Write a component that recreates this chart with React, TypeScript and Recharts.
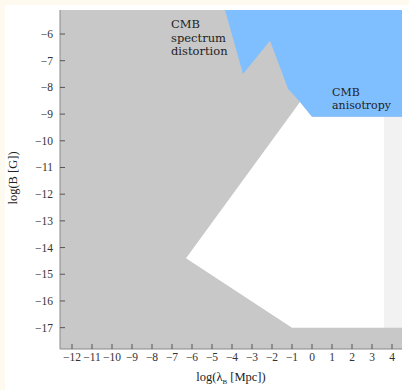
import React from 'react';
import {
    ComposedChart,
    Area,
    XAxis,
    YAxis,
    CartesianGrid,
    ReferenceArea,
} from 'recharts';

// excluded-region outlines (log lambda_B [Mpc], log B [G])
const whiteX = [-6.3, -0.6, 0.0, 3.6];
const whiteTop = [-14.4, -8.55, -9.1, -9.1];

const grayX = [-6.3, -1.0, 4.5];
const grayEdge = [-14.4, -17.0, -17.0];

const blueX = [-4.35, -3.45, -2.1, -1.2, -0.6, 0.0, 4.5];
const blueEdge = [-5.1, -7.5, -6.25, -8.05, -8.55, -9.1, -9.1];

const stripX = [3.6, 4.5];
const stripY = [-17.0, -9.1];

const xTicks = [-12, -11, -10, -9, -8, -7, -6, -5, -4, -3, -2, -1, 0, 1, 2, 3, 4];
const yTicks = [-17, -16, -15, -14, -13, -12, -11, -10, -9, -8, -7, -6];

const X_DOMAIN: [number, number] = [-12.6, 4.5];
const Y_DOMAIN: [number, number] = [-17.8, -5.1];

const GRAY = '#c8c8c8';
const BLUE = '#80bfff';
const AXIS = '#8a8a8a';
const SERIF = '"Liberation Serif", "DejaVu Serif", serif';
const LABEL_FONT = '"DejaVu Serif", serif';

type Row = { x: number; white?: number; gray?: number; blue?: number };

const rowsByX = new Map<number, Row>();
const put = (xs: number[], ys: number[], key: 'white' | 'gray' | 'blue') => {
    xs.forEach((x, i) => {
        const row = rowsByX.get(x) ?? { x };
        row[key] = ys[i];
        rowsByX.set(x, row);
    });
};
put(whiteX, whiteTop, 'white');
put(grayX, grayEdge, 'gray');
put(blueX, blueEdge, 'blue');
const data = Array.from(rowsByX.values()).sort((a, b) => a.x - b.x);

const minus = (v: number) => (v < 0 ? `\u2212${Math.abs(v)}` : `${v}`);

const XTick = (props: any) => {
    const { x, y, payload } = props;
    return (
        <text x={x} y={y + 9} textAnchor="middle" fontFamily={SERIF} fontSize={11.5} fill="#333">
            {minus(payload.value)}
        </text>
    );
};

const YTick = (props: any) => {
    const { x, y, payload } = props;
    return (
        <text x={x} y={y + 4} textAnchor="end" fontFamily={SERIF} fontSize={11.5} fill="#333">
            {minus(payload.value)}
        </text>
    );
};

const XTitle = (props: any) => {
    const { viewBox } = props;
    const cx = viewBox.x + viewBox.width / 2;
    return (
        <text x={cx} y={381} textAnchor="middle" fontFamily={SERIF} fontSize={12.5} fill="#222">
            log(λ
            <tspan fontSize={7} dy={3}>B</tspan>
            <tspan dy={-3}> [Mpc])</tspan>
        </text>
    );
};

const YTitle = () => (
    <text
        x={17}
        y={178}
        transform="rotate(-90, 17, 178)"
        textAnchor="middle"
        fontFamily={SERIF}
        fontSize={12.5}
        fill="#222"
    >
        log(B [G])
    </text>
);

export default function App() {
    return (
        <div
            style={{
                position: 'fixed',
                left: 0,
                top: 0,
                width: 409,
                height: 390,
                overflow: 'hidden',
                background: '#fffaf0',
                fontFamily: SERIF,
            }}
        >
            <div style={{ position: 'absolute', left: 5, top: 5, right: 0, bottom: 0, background: '#fff' }} />
            <div style={{ position: 'absolute', left: 0, top: 0 }}>
                <ComposedChart width={409} height={390} data={data} margin={{ top: 10, right: 7, left: 0, bottom: 0 }}>
                    <CartesianGrid fill={GRAY} stroke="none" horizontal={false} vertical={false} />
                    <XAxis
                        dataKey="x"
                        type="number"
                        domain={X_DOMAIN}
                        ticks={xTicks}
                        allowDataOverflow
                        height={41}
                        tick={<XTick />}
                        tickSize={-5}
                        tickMargin={8}
                        stroke={AXIS}
                        tickLine={{ stroke: '#555' }}
                        interval={0}
                        label={<XTitle />}
                    />
                    <XAxis
                        xAxisId="top"
                        orientation="top"
                        type="number"
                        domain={X_DOMAIN}
                        ticks={xTicks}
                        allowDataOverflow
                        mirror
                        height={0}
                        tick={false}
                        tickSize={5}
                        stroke={AXIS}
                        tickLine={{ stroke: '#555' }}
                    />
                    <YAxis
                        type="number"
                        domain={Y_DOMAIN}
                        ticks={yTicks}
                        allowDataOverflow
                        width={60}
                        tick={<YTick />}
                        tickSize={-5}
                        tickMargin={12}
                        stroke={AXIS}
                        tickLine={{ stroke: '#555' }}
                        interval={0}
                        label={<YTitle />}
                    />
                    <YAxis
                        yAxisId="right"
                        orientation="right"
                        type="number"
                        domain={Y_DOMAIN}
                        ticks={yTicks}
                        allowDataOverflow
                        mirror
                        width={0}
                        tick={false}
                        tickSize={5}
                        stroke={AXIS}
                        strokeWidth={2}
                        tickLine={{ stroke: '#555' }}
                    />
                    <Area
                        dataKey="white"
                        type="linear"
                        baseValue="dataMin"
                        fill="#ffffff"
                        fillOpacity={1}
                        stroke="none"
                        connectNulls
                        dot={false}
                        activeDot={false}
                        isAnimationActive={false}
                    />
                    <Area
                        dataKey="gray"
                        type="linear"
                        baseValue="dataMin"
                        fill={GRAY}
                        fillOpacity={1}
                        stroke="none"
                        connectNulls
                        dot={false}
                        activeDot={false}
                        isAnimationActive={false}
                    />
                    <ReferenceArea
                        x1={stripX[0]}
                        x2={stripX[1]}
                        y1={stripY[0]}
                        y2={stripY[1]}
                        fill="#f2f2f2"
                        fillOpacity={1}
                        stroke="none"
                        ifOverflow="hidden"
                    />
                    <Area
                        dataKey="blue"
                        type="linear"
                        baseValue="dataMax"
                        fill={BLUE}
                        fillOpacity={1}
                        stroke="none"
                        connectNulls
                        dot={false}
                        activeDot={false}
                        isAnimationActive={false}
                    />
                </ComposedChart>
            </div>
            <div
                style={{
                    position: 'absolute',
                    left: 171,
                    top: 18,
                    fontFamily: LABEL_FONT,
                    fontSize: 11.5,
                    lineHeight: '13.5px',
                    color: '#222',
                }}
            >
                CMB
                <br />
                spectrum
                <br />
                distortion
            </div>
            <div
                style={{
                    position: 'absolute',
                    left: 332,
                    top: 87,
                    fontFamily: LABEL_FONT,
                    fontSize: 11,
                    lineHeight: '12.5px',
                    color: '#222',
                }}
            >
                CMB
                <br />
                anisotropy
            </div>
        </div>
    );
}
